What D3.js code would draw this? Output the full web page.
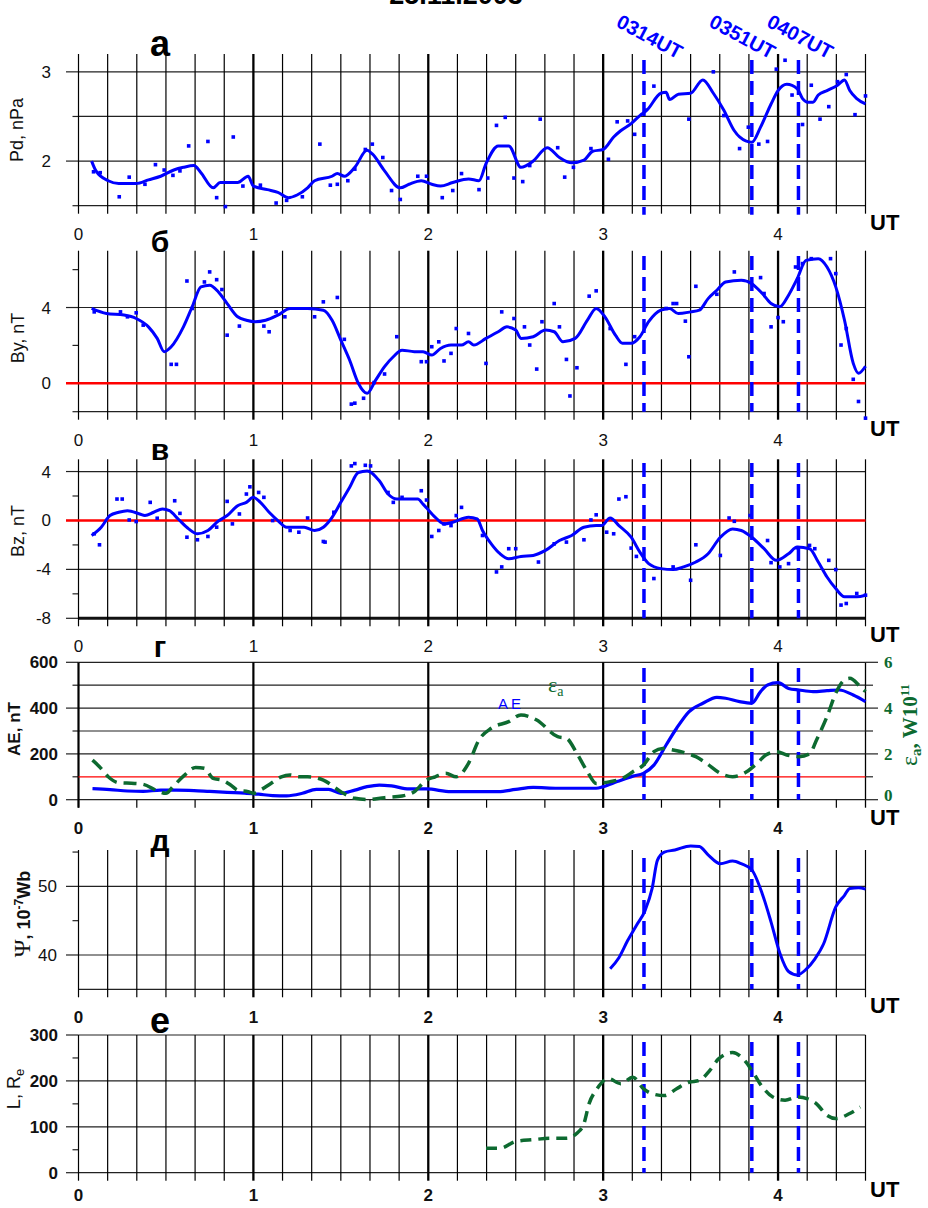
<!DOCTYPE html>
<html>
<head>
<meta charset="utf-8">
<script src="https://cdn.jsdelivr.net/npm/d3@7"></script>
<style>
  body { margin: 0; background: #fff; }
  svg { display: block; font-family: "Liberation Sans", Arial, sans-serif; }
</style>
</head>
<body>
<div id="chart"></div>
<script>
// all times are hours UT, 25.11.2003

// Pd, nPa
const pdLine = [[0.075,2.0],[0.10,1.89],[0.17,1.78],[0.23,1.75],[0.33,1.75],[0.40,1.79],[0.47,1.83],[0.545,1.90],[0.60,1.93],[0.66,1.95],[0.70,1.87],[0.77,1.70],[0.81,1.76],[0.91,1.76],[0.97,1.83],[1.0,1.72],[1.08,1.68],[1.14,1.65],[1.20,1.59],[1.25,1.62],[1.31,1.70],[1.35,1.78],[1.45,1.83],[1.48,1.86],[1.52,1.83],[1.58,1.93],[1.65,2.12],[1.68,2.08],[1.75,1.89],[1.84,1.70],[1.89,1.74],[1.96,1.78],[2.02,1.74],[2.07,1.72],[2.14,1.76],[2.23,1.80],[2.29,1.78],[2.33,1.97],[2.40,2.17],[2.46,2.17],[2.53,1.93],[2.60,2.0],[2.68,2.15],[2.75,2.04],[2.82,1.98],[2.89,2.01],[2.94,2.11],[3.0,2.13],[3.06,2.27],[3.10,2.34],[3.16,2.42],[3.21,2.51],[3.25,2.57],[3.33,2.76],[3.36,2.77],[3.38,2.69],[3.43,2.75],[3.50,2.76],[3.57,2.91],[3.63,2.76],[3.69,2.57],[3.75,2.34],[3.78,2.27],[3.85,2.21],[3.90,2.38],[3.96,2.64],[4.0,2.79],[4.05,2.86],[4.11,2.81],[4.14,2.70],[4.17,2.66],[4.20,2.66],[4.23,2.74],[4.28,2.79],[4.34,2.85],[4.38,2.91],[4.41,2.79],[4.45,2.70],[4.50,2.64]];
const pdPoints = [[0.086,1.88],[0.124,1.87],[0.233,1.60],[0.29,1.82],[0.38,1.74],[0.44,1.96],[0.49,1.90],[0.54,1.84],[0.58,1.89],[0.63,2.17],[0.74,2.22],[0.79,1.59],[0.84,1.49],[0.885,2.27],[0.94,1.72],[1.04,1.73],[1.13,1.53],[1.19,1.56],[1.28,1.60],[1.38,2.19],[1.44,1.73],[1.48,1.74],[1.54,1.78],[1.58,1.91],[1.64,2.13],[1.68,2.19],[1.74,2.04],[1.79,1.67],[1.84,1.57],[1.94,1.83],[1.99,1.83],[2.08,1.59],[2.14,1.67],[2.19,1.86],[2.29,1.68],[2.34,1.81],[2.39,2.40],[2.44,2.49],[2.49,1.81],[2.54,1.77],[2.58,1.95],[2.64,2.47],[2.74,2.15],[2.78,1.82],[2.83,1.93],[2.93,2.14],[3.03,2.02],[3.08,2.44],[3.14,2.45],[3.18,2.30],[3.24,2.57],[3.29,2.84],[3.49,2.47],[3.63,3.0],[3.69,2.51],[3.78,2.14],[3.83,2.38],[3.89,2.19],[3.94,2.22],[3.99,3.03],[4.04,3.13],[4.08,2.74],[4.14,2.41],[4.19,2.85],[4.24,2.47],[4.29,2.61],[4.34,2.89],[4.39,2.97],[4.44,2.52],[4.50,2.73]];

// By, nT
const byLine = [[0.075,3.95],[0.16,3.68],[0.26,3.6],[0.33,3.42],[0.40,2.98],[0.45,2.37],[0.49,1.67],[0.53,1.93],[0.60,2.98],[0.65,4.04],[0.70,5.09],[0.75,5.18],[0.80,4.82],[0.85,4.21],[0.91,3.51],[0.96,3.33],[1.01,3.25],[1.07,3.33],[1.14,3.60],[1.21,3.95],[1.31,3.95],[1.40,3.86],[1.45,3.33],[1.50,2.28],[1.55,1.23],[1.60,0],[1.65,-0.53],[1.70,0.18],[1.75,0.88],[1.80,1.40],[1.85,1.75],[1.92,1.67],[1.97,1.67],[2.02,1.49],[2.07,1.84],[2.13,2.02],[2.19,2.02],[2.23,2.19],[2.26,2.02],[2.33,2.37],[2.40,2.72],[2.45,2.98],[2.50,2.81],[2.53,2.37],[2.60,2.46],[2.67,2.81],[2.72,2.72],[2.77,2.19],[2.84,2.37],[2.91,3.33],[2.96,3.95],[3.01,3.51],[3.07,2.54],[3.11,2.11],[3.16,2.11],[3.21,2.46],[3.26,3.25],[3.33,3.86],[3.38,3.95],[3.43,3.68],[3.50,3.77],[3.55,3.86],[3.60,4.47],[3.65,4.91],[3.70,5.35],[3.79,5.44],[3.85,5.26],[3.91,4.74],[3.96,4.21],[4.01,4.04],[4.06,4.65],[4.11,5.53],[4.16,6.49],[4.23,6.58],[4.28,6.14],[4.33,5.09],[4.38,3.33],[4.43,1.05],[4.46,0.53],[4.50,0.9]];
const byPoints = [[0.09,3.77],[0.24,3.77],[0.28,3.51],[0.33,3.72],[0.37,3.07],[0.53,1.0],[0.56,1.0],[0.62,5.4],[0.65,3.95],[0.72,5.35],[0.75,5.88],[0.79,5.47],[0.82,4.95],[0.85,2.54],[0.92,3.02],[1.06,3.02],[1.09,2.72],[1.13,3.77],[1.18,3.51],[1.35,3.51],[1.40,4.30],[1.48,4.53],[1.52,2.32],[1.56,-1.1],[1.58,-1.05],[1.63,-0.79],[1.69,0.04],[1.75,0.49],[1.82,2.46],[1.96,1.14],[1.99,1.14],[2.02,1.93],[2.06,2.19],[2.09,1.18],[2.13,1.58],[2.16,2.89],[2.23,2.63],[2.33,1.05],[2.42,3.77],[2.49,3.42],[2.55,2.98],[2.58,2.02],[2.62,0.75],[2.65,3.25],[2.72,4.21],[2.75,2.98],[2.79,1.26],[2.81,-0.67],[2.85,0.82],[2.92,4.60],[2.96,4.88],[3.04,2.89],[3.13,1.0],[3.18,2.46],[3.36,3.95],[3.40,4.21],[3.42,4.21],[3.47,3.28],[3.49,1.40],[3.53,5.12],[3.65,4.70],[3.75,5.88],[3.90,5.58],[3.92,4.74],[3.96,2.98],[4.00,3.47],[4.03,3.25],[4.10,6.14],[4.14,6.32],[4.19,6.58],[4.30,6.58],[4.33,5.79],[4.36,2.02],[4.39,2.89],[4.43,0.21],[4.46,-0.96],[4.50,-1.84]];

// Bz, nT
const bzLine = [[0.075,-1.23],[0.13,-0.55],[0.18,0.4],[0.23,0.67],[0.28,0.8],[0.35,0.53],[0.38,0.4],[0.43,0.67],[0.48,0.94],[0.52,0.8],[0.57,0.12],[0.63,-0.69],[0.68,-1.09],[0.74,-0.82],[0.80,-0.04],[0.85,0.4],[0.91,1.21],[0.96,1.48],[1.0,1.89],[1.04,1.48],[1.09,0.67],[1.14,-0.01],[1.19,-0.55],[1.24,-0.55],[1.29,-0.55],[1.35,-0.82],[1.40,-0.55],[1.45,0.26],[1.50,1.48],[1.55,2.70],[1.60,3.92],[1.65,4.05],[1.72,3.24],[1.77,2.16],[1.82,1.75],[1.89,1.75],[1.94,1.75],[1.97,1.34],[2.04,0.26],[2.09,-0.28],[2.14,-0.15],[2.23,0.26],[2.28,0.12],[2.31,-0.82],[2.36,-1.91],[2.41,-2.72],[2.46,-3.13],[2.53,-2.94],[2.60,-2.86],[2.67,-2.45],[2.75,-1.64],[2.82,-1.23],[2.89,-0.55],[2.96,-0.42],[2.99,-0.42],[3.04,0.2],[3.09,-0.42],[3.16,-1.37],[3.21,-2.59],[3.26,-3.53],[3.33,-3.94],[3.40,-4.02],[3.46,-3.80],[3.53,-3.40],[3.60,-2.72],[3.67,-1.37],[3.74,-0.69],[3.79,-0.82],[3.85,-1.37],[3.92,-2.31],[3.99,-3.26],[4.06,-2.72],[4.11,-2.18],[4.18,-2.31],[4.23,-3.40],[4.28,-4.62],[4.33,-5.57],[4.38,-6.24],[4.45,-6.24],[4.50,-6.11]];
const bzPoints = [[0.09,-1.09],[0.12,-1.99],[0.22,1.75],[0.25,1.75],[0.29,0.04],[0.33,-0.09],[0.41,1.48],[0.45,0.18],[0.55,1.61],[0.58,0.58],[0.62,-1.37],[0.68,-1.58],[0.74,-1.31],[0.79,-0.55],[0.85,1.56],[0.88,-0.28],[0.92,0.53],[0.96,2.16],[0.98,2.75],[1.03,2.29],[1.06,1.89],[1.11,-0.01],[1.21,-0.82],[1.26,-0.96],[1.31,0.2],[1.40,-1.72],[1.41,-1.77],[1.46,0.67],[1.56,4.46],[1.58,4.65],[1.64,4.51],[1.67,4.46],[1.77,2.29],[1.80,1.48],[1.85,1.89],[1.96,2.43],[1.99,1.67],[2.02,-1.31],[2.06,-0.82],[2.09,-0.28],[2.13,-0.42],[2.16,0.40],[2.19,1.07],[2.31,-1.23],[2.39,-4.21],[2.42,-3.80],[2.46,-2.31],[2.50,-2.31],[2.63,-3.40],[2.72,-1.91],[2.79,-1.77],[2.89,-1.58],[2.93,0.04],[2.96,0.46],[3.02,-0.96],[3.06,-1.09],[3.09,1.75],[3.13,1.94],[3.16,-2.26],[3.19,-2.94],[3.29,-4.75],[3.40,-3.80],[3.50,-4.89],[3.53,-1.99],[3.67,-2.86],[3.72,0.20],[3.75,-0.07],[3.84,0.40],[3.94,-1.64],[3.96,-3.45],[4.01,-3.80],[4.06,-3.53],[4.11,-2.23],[4.18,-2.04],[4.21,-2.31],[4.29,-3.26],[4.33,-4.02],[4.36,-6.92],[4.39,-6.79],[4.45,-5.97],[4.50,-6.11]];

// AE, nT and epsilon_a, 10^11 W
const aeLine = [[0.08,48],[0.18,44],[0.28,38],[0.37,36],[0.47,42],[0.56,42],[0.66,40],[0.75,36],[0.85,32],[0.95,29],[1.03,24],[1.11,18],[1.19,17],[1.28,28],[1.36,45],[1.43,45],[1.50,28],[1.58,42],[1.65,57],[1.72,64],[1.79,60],[1.89,47],[1.99,47],[2.13,35],[2.26,35],[2.40,35],[2.50,45],[2.60,54],[2.74,50],[2.84,50],[2.96,50],[3.0,57],[3.08,79],[3.17,103],[3.23,115],[3.29,151],[3.36,239],[3.42,312],[3.49,384],[3.57,421],[3.65,447],[3.70,443],[3.78,428],[3.85,421],[3.90,472],[3.94,501],[4.0,511],[4.06,486],[4.12,479],[4.20,472],[4.28,476],[4.35,479],[4.43,457],[4.50,428]];
const eaLine = [[0.08,1.73],[0.12,1.44],[0.17,1.0],[0.23,0.74],[0.32,0.71],[0.37,0.67],[0.45,0.39],[0.50,0.28],[0.54,0.57],[0.60,1.03],[0.67,1.41],[0.72,1.37],[0.77,0.93],[0.82,0.86],[0.87,0.64],[0.91,0.42],[0.97,0.35],[1.0,0.28],[1.04,0.42],[1.10,0.71],[1.16,1.0],[1.21,1.08],[1.26,1.0],[1.31,1.0],[1.40,0.86],[1.50,0.35],[1.58,0.06],[1.65,0.01],[1.75,0.09],[1.85,0.16],[1.92,0.35],[1.99,0.86],[2.04,1.0],[2.10,1.15],[2.16,1.0],[2.23,1.59],[2.29,2.61],[2.36,3.12],[2.46,3.41],[2.53,3.70],[2.62,3.48],[2.74,2.75],[2.79,2.68],[2.85,2.02],[2.91,1.22],[2.96,0.71],[3.04,0.79],[3.11,0.93],[3.17,1.22],[3.23,1.51],[3.29,2.10],[3.34,2.24],[3.40,2.17],[3.48,2.02],[3.53,1.88],[3.59,1.59],[3.67,1.15],[3.74,1.0],[3.82,1.22],[3.88,1.59],[3.93,1.95],[3.99,2.10],[4.05,1.95],[4.12,1.88],[4.18,2.0],[4.22,2.61],[4.28,3.63],[4.33,4.65],[4.38,5.23],[4.41,5.30],[4.47,4.94],[4.50,4.72]];

// Psi, 10^-7 Wb
const psiLine = [[3.04,38.0],[3.09,39.6],[3.14,42.1],[3.19,44.3],[3.24,46.5],[3.28,49.7],[3.31,53.8],[3.35,55.0],[3.41,55.3],[3.50,55.9],[3.55,55.8],[3.60,54.6],[3.67,53.3],[3.74,53.7],[3.79,53.3],[3.85,52.4],[3.91,48.9],[3.96,44.8],[4.01,40.3],[4.06,37.6],[4.11,37.1],[4.16,37.9],[4.21,39.4],[4.26,41.6],[4.33,47.0],[4.38,48.7],[4.41,49.7],[4.46,49.8],[4.50,49.6]];

// L, Re
const lLine = [[2.33,53],[2.41,53],[2.50,68],[2.60,72],[2.70,75],[2.79,75],[2.85,86],[2.89,107],[2.92,151],[2.96,180],[3.03,205],[3.10,194],[3.17,208],[3.23,183],[3.28,172],[3.35,168],[3.42,183],[3.49,197],[3.55,201],[3.61,223],[3.66,248],[3.74,262],[3.81,244],[3.85,223],[3.91,187],[3.97,165],[4.04,158],[4.11,165],[4.17,161],[4.22,150],[4.28,125],[4.33,118],[4.41,129],[4.47,143]];

// event times
const markTimes = [3 + 14 / 60, 3 + 51 / 60, 4 + 7 / 60];
const markLabels = ["0314UT", "0351UT", "0407UT"];
const hourLabels = [0, 1, 2, 3, 4];

const width = 928, height = 1208;
const blue = "#0000ff", green = "#0d6a30", red = "#ff0000";

const svg = d3.select("#chart")
    .append("svg")
    .attr("width", width)
    .attr("height", height);

const x = d3.scaleLinear().domain([0, 4.5]).range([78.5, 865.5]);
const tenMin = d3.range(0, 28).map(i => i / 6);
const twentyMin = d3.range(0, 14).map(i => i / 3);

// panel layouts
const panels = [
    { key: "a", letter: "а", letterSize: 36, top: 54, bottom: 205.7, domain: [1.5, 3.2],
      grid: [1.5, 2, 2.5, 3], major: [2, 3], minor: [1.5, 2.5], labels: [2, 3],
      dashTop: 60 },
    { key: "b", letter: "б", letterSize: 30, top: 250.7, bottom: 411.7, domain: [-1.5, 7],
      grid: [-1.5, 4], major: [0, 4], minor: [-1.5, 2, 6], labels: [0, 4], redAt: 0,
      dashTop: 256 },
    { key: "c", letter: "в", letterSize: 30, top: 459.3, bottom: 618.3, domain: [-8, 5],
      grid: [4, -4, -8], major: [4, 0, -4, -8], minor: [2, -2, -6], labels: [4, 0, -4, -8], redAt: 0,
      dashTop: 463, heavyBottom: true },
    { key: "d", letter: "г", letterSize: 30, top: 662.3, bottom: 799.7, domain: [0, 600],
      grid: [0, 200, 300, 400, 500, 600], major: [0, 200, 400, 600], minor: [100, 300, 500],
      labels: [0, 200, 400, 600], redAt: 100, boldLabels: true, sparse: true,
      dashTop: 668 },
    { key: "e", letter: "д", letterSize: 30, top: 850, bottom: 989.3, domain: [35, 55.3],
      grid: [35, 40, 50], major: [40, 50], minor: [45, 55], labels: [40, 50],
      dashTop: 858, boldX: true },
    { key: "f", letter: "е", letterSize: 36, top: 1035, bottom: 1172.7, domain: [0, 300],
      grid: [0, 100, 200, 300], major: [0, 100, 200, 300], minor: [50, 150, 250],
      labels: [0, 100, 200, 300], boldLabels: true, boldX: true,
      dashTop: 1042 }
];

const scales = {};

panels.forEach(p => {
    const y = d3.scaleLinear().domain(p.domain).range([p.bottom, p.top]);
    scales[p.key] = y;
    const g = svg.append("g").attr("class", "panel-" + p.key);
    const x0 = x(0), x1 = x(4.5);

    // horizontal grid lines
    g.selectAll(".hgrid").data(p.grid).enter().append("line")
        .attr("x1", x0).attr("x2", x1)
        .attr("y1", d => y(d)).attr("y2", d => y(d))
        .style("stroke", d => (p.heavyBottom && d === -8) ? "#111" : "#222")
        .style("stroke-width", d => (p.heavyBottom && d === -8) ? 3 : 1.2);

    // left ticks
    g.selectAll(".majtick").data(p.major).enter().append("line")
        .attr("x1", 66).attr("x2", x0)
        .attr("y1", d => y(d)).attr("y2", d => y(d))
        .style("stroke", "#222").style("stroke-width", 1.2);
    g.selectAll(".mintick").data(p.minor).enter().append("line")
        .attr("x1", 72.5).attr("x2", x0)
        .attr("y1", d => y(d)).attr("y2", d => y(d))
        .style("stroke", "#222").style("stroke-width", 1.2);

    // vertical grid lines, with ticks below the axis
    if (p.sparse) {
        g.selectAll(".vgrid").data([0, 1, 2, 3, 4, 4.5]).enter().append("line")
            .attr("x1", d => x(d)).attr("x2", d => x(d))
            .attr("y1", p.top).attr("y2", p.bottom + 8)
            .style("stroke", "#000").style("stroke-width", d => d === 4.5 ? 1.3 : 2.2);
        g.selectAll(".vtick").data(twentyMin).enter().append("line")
            .attr("x1", d => x(d)).attr("x2", d => x(d))
            .attr("y1", p.bottom).attr("y2", p.bottom + 8)
            .style("stroke", "#000").style("stroke-width", 1.2);
        // right ticks for the second axis
        g.selectAll(".rtick").data(p.grid).enter().append("line")
            .attr("x1", x1).attr("x2", d => (d % 200 === 0) ? 878 : 873)
            .attr("y1", d => y(d)).attr("y2", d => y(d))
            .style("stroke", "#222").style("stroke-width", 1.2);
        g.append("line")
            .attr("x1", x1).attr("x2", 873)
            .attr("y1", y(100)).attr("y2", y(100))
            .style("stroke", "#222").style("stroke-width", 1.2);
    } else {
        g.selectAll(".vgrid").data(tenMin).enter().append("line")
            .attr("x1", d => x(d)).attr("x2", d => x(d))
            .attr("y1", p.top).attr("y2", p.bottom + 8)
            .style("stroke", "#000")
            .style("stroke-width", d => (d > 0 && Number.isInteger(d)) ? 2.3 : 1.2);
    }

    // red reference line
    if (p.redAt !== undefined) {
        g.append("line")
            .attr("x1", p.sparse ? x0 : 66).attr("x2", x1)
            .attr("y1", y(p.redAt)).attr("y2", y(p.redAt))
            .style("stroke", red)
            .style("stroke-width", p.sparse ? 1.2 : 2.6);
    }

    // y tick labels
    g.selectAll(".ylab").data(p.labels).enter().append("text")
        .attr("x", p.boldLabels ? 58 : (p.key === "e" ? 57 : 51))
        .attr("y", d => y(d) + 6)
        .attr("text-anchor", "end")
        .style("font-size", "17px")
        .style("font-weight", p.boldLabels ? "bold" : "normal")
        .style("fill", "#111")
        .text(d => d);

    // x tick labels
    g.selectAll(".xlab").data(hourLabels).enter().append("text")
        .attr("x", d => x(d))
        .attr("y", Math.min(p.bottom + 34, 1201))
        .attr("text-anchor", "middle")
        .style("font-size", "17px")
        .style("font-weight", p.boldX || p.sparse ? "bold" : "normal")
        .style("fill", "#111")
        .text(d => d);

    g.append("text")
        .attr("x", 870)
        .attr("y", p.bottom + (p.sparse ? 25 : 24))
        .style("font-size", "22px")
        .style("font-weight", "bold")
        .style("fill", "#000")
        .text("UT");

    // panel letter
    g.append("text")
        .attr("x", 160)
        .attr("y", p.top + (p.key === "a" ? 2 : (p.key === "d" ? -5 : 1)) - (p.key === "f" ? 3 : 0))
        .attr("text-anchor", "middle")
        .style("font-size", p.letterSize + "px")
        .style("font-weight", "bold")
        .style("fill", "#000")
        .text(p.letter);

    // event markers
    g.selectAll(".mark").data(markTimes).enter().append("line")
        .attr("x1", d => x(d)).attr("x2", d => x(d))
        .attr("y1", p.dashTop).attr("y2", p.key === "a" ? p.bottom + 9 : p.bottom)
        .style("stroke", blue)
        .style("stroke-width", 3.5)
        .style("stroke-dasharray", "14,7");
});

// y axis titles
function yTitle(cx, cy, size, weight) {
    return svg.append("text")
        .attr("transform", `translate(${cx},${cy}) rotate(-90)`)
        .attr("text-anchor", "middle")
        .style("font-size", size + "px")
        .style("font-weight", weight)
        .style("fill", "#111");
}
yTitle(23, 130, 18, "normal").text("Pd, nPa");
yTitle(24, 338, 18, "normal").text("By, nT");
yTitle(24, 531, 18, "normal").text("Bz, nT");
yTitle(20, 729, 17, "bold").text("AE, nT");
const psiT = yTitle(30, 914, 18, "bold");
psiT.append("tspan").style("font-family", "Liberation Serif, serif").style("font-size", "24px").style("font-weight", "normal").text("Ψ");
psiT.append("tspan").text(", 10");
psiT.append("tspan").attr("dy", -7).style("font-size", "12px").text("-7");
psiT.append("tspan").attr("dy", 7).text("Wb");
const lT = yTitle(20, 1089, 18, "normal");
lT.append("tspan").text("L, R");
lT.append("tspan").attr("dy", 4).style("font-size", "13px").text("e");

// title (cut at the top edge, as in the original figure)
svg.append("text")
    .attr("x", 456).attr("y", 4)
    .attr("text-anchor", "middle")
    .style("font-size", "27px")
    .style("font-weight", "bold")
    .text("25.11.2003");

// event labels, tilted above the dashed markers
const markLabelDx = [-29, -44, -33];
svg.selectAll(".mark-label").data(markTimes).enter().append("text")
    .attr("transform", (d, i) => `translate(${x(d) + markLabelDx[i]},26) rotate(28)`)
    .style("font-size", "20px")
    .style("font-weight", "bold")
    .style("fill", blue)
    .text((d, i) => markLabels[i]);

// line generator factory
const lineFor = y => d3.line().x(d => x(d[0])).y(d => y(d[1])).curve(d3.curveMonotoneX);

function drawPoints(data, y) {
    svg.append("g").selectAll("rect").data(data).enter().append("rect")
        .attr("x", d => x(d[0]) - 1.8).attr("y", d => y(d[1]) - 1.8)
        .attr("width", 3.6).attr("height", 3.6)
        .style("fill", blue);
}
function drawLine(data, y, color, dash, w) {
    svg.append("path").datum(data)
        .attr("d", lineFor(y))
        .style("fill", "none")
        .style("stroke", color)
        .style("stroke-width", w)
        .style("stroke-dasharray", dash || null)
        .style("stroke-linejoin", "round");
}

drawPoints(pdPoints, scales.a);
drawLine(pdLine, scales.a, blue, null, 3);
drawPoints(byPoints, scales.b);
drawLine(byLine, scales.b, blue, null, 3);
drawPoints(bzPoints, scales.c);
drawLine(bzLine, scales.c, blue, null, 3);

// AE panel: right axis for epsilon_a (0..6 on the same height)
const yEa = d3.scaleLinear().domain([0, 6]).range([scales.d(0), scales.d(600)]);
drawLine(aeLine, scales.d, blue, null, 3.2);
drawLine(eaLine, yEa, green, "13,7", 3.5);

svg.selectAll(".ea-tick").data([0, 2, 4, 6]).enter().append("text")
    .attr("x", 884).attr("y", d => yEa(d) + (d === 0 ? 1 : 6))
    .style("font-size", "17px").style("font-weight", "bold")
    .style("font-family", "Liberation Serif, serif")
    .style("fill", green)
    .text(d => d);

const eaT = svg.append("text")
    .attr("transform", "translate(917,725) rotate(-90)")
    .attr("text-anchor", "middle")
    .style("font-family", "Liberation Serif, serif")
    .style("font-size", "21px").style("font-weight", "bold")
    .style("fill", green);
eaT.append("tspan").style("font-weight", "normal").style("font-size", "24px").text("ε");
eaT.append("tspan").attr("dy", 4).style("font-size", "15px").text("a");
eaT.append("tspan").attr("dy", -4).text(", W10");
eaT.append("tspan").attr("dy", -8).style("font-size", "13px").text("11");

const eaLab = svg.append("text")
    .attr("x", 548).attr("y", 692)
    .style("font-family", "Liberation Serif, serif")
    .style("font-size", "22px")
    .style("fill", green);
eaLab.append("tspan").text("ε");
eaLab.append("tspan").attr("dy", 4).style("font-size", "14px").text("a");

svg.append("text")
    .attr("x", 498).attr("y", 709)
    .style("font-size", "15px")
    .style("letter-spacing", "3px")
    .style("fill", blue)
    .text("AE");

drawLine(psiLine, scales.e, blue, null, 3);
drawLine(lLine, scales.f, green, "11,7", 3.5);
</script>
</body>
</html>
